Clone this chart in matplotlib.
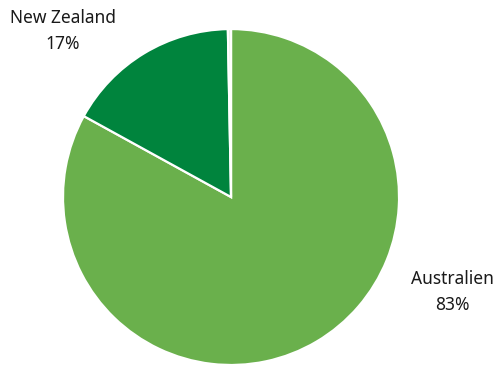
import matplotlib
matplotlib.use('Agg')
import matplotlib.pyplot as plt

# data
labels = ['Australien', 'New Zealand', '']
shares = [83.0, 16.7, 0.3]
colors = ['#6ab04c', '#00843d', '#e8efe4']
label_text = ['Australien\n83%', 'New Zealand\n17%']
label_pos = [(1.32, -0.565), (-1.0, 0.99)]

plt.rcParams['font.family'] = ['Noto Sans', 'DejaVu Sans']

fig = plt.figure(figsize=(4.97, 3.66), dpi=100)
ax = fig.add_axes([0, 0, 1, 1])

ax.pie(shares, colors=colors, startangle=90, counterclock=False,
       radius=1.0, center=(0, 0),
       wedgeprops=dict(edgecolor='white', linewidth=1.6))

for txt, (x, y) in zip(label_text, label_pos):
    ax.text(x, y, txt, ha='center', va='center', fontsize=12.5,
            color='#1a1a1a', linespacing=1.6)

ax.set_xlim(-1.375, 1.583)
ax.set_ylim(-1.006, 1.173)
ax.set_aspect('auto')
ax.axis('off')

fig.savefig('out.png', dpi=100)
